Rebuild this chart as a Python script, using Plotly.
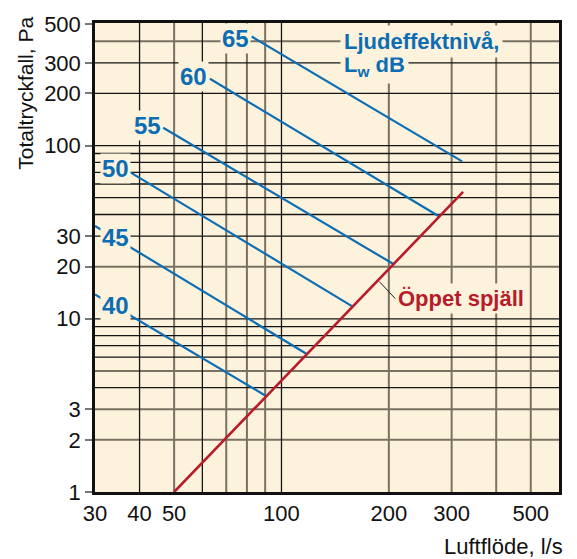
import numpy as np
import plotly.graph_objects as go

# Ljudeffektnivå Lw dB lines: start / end points (l/s, Pa)
lw_levels = ["40", "45", "50", "55", "60", "65"]
lw_flow = [[30, 90], [30, 117.4], [37.7, 158], [46.6, 206], [63, 275.5], [82.5, 321]]
lw_pa = [[13.8, 3.61], [34.4, 6.28], [70, 11.8], [126.8, 20.7], [243, 39.2], [426, 81]]
lw_label_flow = [34.3, 34.3, 34.3, 42.2, 56.5, 74.2]
lw_label_pa = [12.0, 29.5, 74.1, 130.6, 249, 417]

# Öppet spjäll line
open_flow = [50, 323]
open_pa = [1, 54]

x_ticks = [30, 40, 50, 100, 200, 300, 500]
y_ticks = [1, 2, 3, 10, 20, 30, 100, 200, 300, 500]

# grid lines, two tones as in the printed chart
x_grid_dark = [40, 60, 100]
x_grid_grey = [50, 70, 80, 90, 200, 300, 400, 500]
y_grid_dark = [4, 6, 7, 8, 9, 10, 30, 40, 50, 60, 70, 80, 90, 100, 200, 300]
y_grid_grey = [2, 3, 5, 20, 400]

X_MIN, X_MAX = 30, 600
Y_MIN, Y_MAX = 1, 510

BLUE = "#0d6db3"
RED = "#b71c2b"
BG = "#fdf3dc"
FONT = "Liberation Sans, Arial, sans-serif"


def grid_trace(xs, ys, vertical, color, width):
    gx, gy = [], []
    for v in (xs if vertical else ys):
        if vertical:
            gx += [v, v, None]
            gy += [Y_MIN, Y_MAX, None]
        else:
            gx += [X_MIN, X_MAX, None]
            gy += [v, v, None]
    return go.Scatter(
        x=gx, y=gy, mode="lines", line=dict(color=color, width=width),
        hoverinfo="skip", showlegend=False,
    )


fig = go.Figure()

fig.add_trace(grid_trace(x_grid_grey, None, True, "#7a7163", 2))
fig.add_trace(grid_trace(None, y_grid_grey, False, "#7a7163", 2))
fig.add_trace(grid_trace(x_grid_dark, None, True, "#151515", 1.3))
fig.add_trace(grid_trace(None, y_grid_dark, False, "#151515", 1.3))

for lvl, fx, py in zip(lw_levels, lw_flow, lw_pa):
    fig.add_trace(
        go.Scatter(x=fx, y=py, mode="lines", name=f"{lvl} dB",
                   line=dict(color=BLUE, width=2.2), showlegend=False)
    )

fig.add_trace(
    go.Scatter(x=open_flow, y=open_pa, mode="lines", name="Öppet spjäll",
               line=dict(color=RED, width=2.6), showlegend=False)
)

for lvl, fx, py in zip(lw_levels, lw_label_flow, lw_label_pa):
    fig.add_annotation(
        x=np.log10(fx), y=np.log10(py), text=f"<b>{lvl}</b>", showarrow=False,
        font=dict(family=FONT, size=24, color=BLUE), bgcolor=BG, borderpad=1,
    )

# second line first so the descender of "j" stays visible
fig.add_annotation(
    x=np.log10(145.7), y=np.log10(288), text="<b>L<sub>w</sub> dB</b>",
    showarrow=False, xanchor="left", font=dict(family=FONT, size=22, color=BLUE),
    bgcolor=BG, borderpad=3,
)
fig.add_annotation(
    x=np.log10(145.7), y=np.log10(400), text="<b>Ljudeffektnivå,</b>",
    showarrow=False, xanchor="left", font=dict(family=FONT, size=22, color=BLUE),
    bgcolor=BG, borderpad=3,
)

fig.add_annotation(
    x=np.log10(188), y=np.log10(16.4), text="<b>Öppet spjäll</b>",
    showarrow=True, arrowhead=0, arrowwidth=1, arrowcolor="#222",
    ax=16, ay=17, xanchor="left", font=dict(family=FONT, size=22, color=RED),
    bgcolor=BG, borderpad=2,
)

fig.add_annotation(
    x=-0.149, y=0.851, xref="paper", yref="paper", text="Totaltryckfall, Pa",
    textangle=-90, showarrow=False, xanchor="center", yanchor="middle",
    font=dict(family=FONT, size=21, color="#111"),
)
fig.add_annotation(
    x=1.013, y=-0.1155, xref="paper", yref="paper", text="Luftflöde, l/s",
    xanchor="right", yanchor="middle", showarrow=False,
    font=dict(family=FONT, size=22, color="#111"),
)

fig.update_layout(
    width=577,
    height=559,
    margin=dict(l=95, r=18, t=16, b=67),
    paper_bgcolor="white",
    plot_bgcolor=BG,
    font=dict(family=FONT, size=22, color="#111"),
    showlegend=False,
    xaxis=dict(
        type="log", range=[np.log10(X_MIN), np.log10(X_MAX)],
        tickvals=x_ticks, ticktext=[str(v) for v in x_ticks],
        showgrid=False, zeroline=False, ticks="",
        showline=True, mirror=True, linecolor="#111", linewidth=2.5,
    ),
    yaxis=dict(
        type="log", range=[np.log10(Y_MIN), np.log10(Y_MAX)],
        tickvals=y_ticks, ticktext=[str(v) for v in y_ticks],
        showgrid=False, zeroline=False, ticks="outside", ticklen=7,
        tickwidth=2, tickcolor="#777", showline=True, mirror=True,
        linecolor="#111", linewidth=2.5,
    ),
)

fig.write_html(
    "out.html",
    config={"displayModeBar": False},
    post_script="document.body.style.margin='0px';",
)
